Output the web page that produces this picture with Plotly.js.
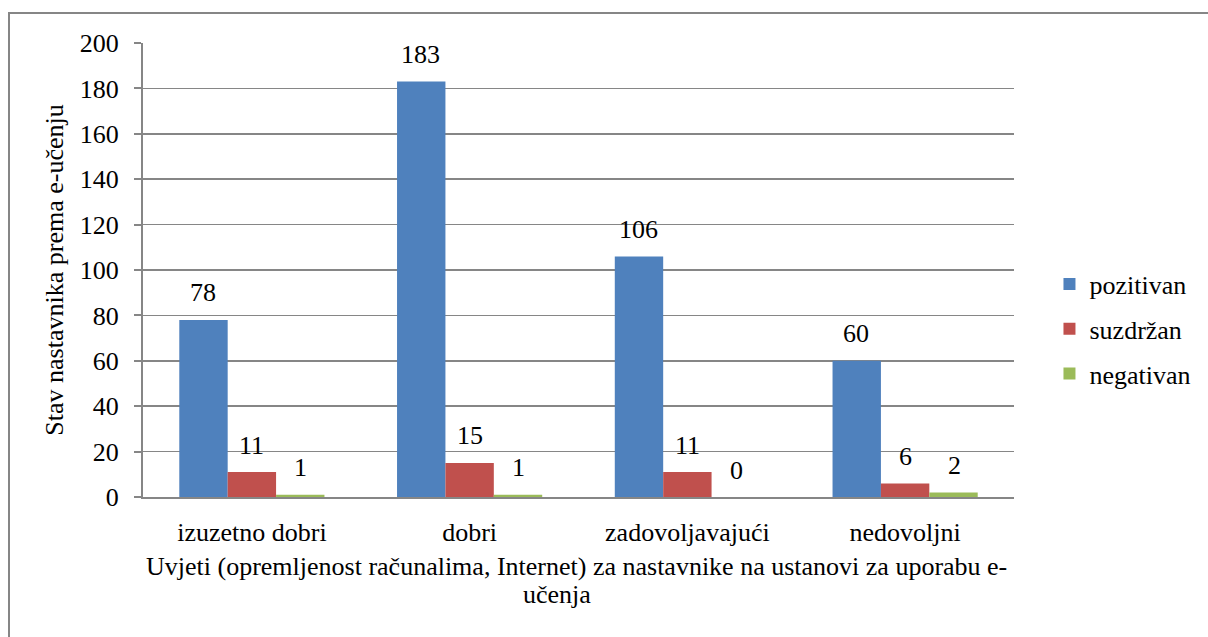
<!DOCTYPE html>
<html>
<head>
<meta charset="utf-8">
<script src="https://cdn.plot.ly/plotly-3.0.1.min.js"></script>
<style>
html,body{margin:0;padding:0;background:#fff;overflow:hidden;}
#wrap{position:relative;width:1208px;height:637px;overflow:hidden;}
#chart{width:1208px;height:637px;}
#frame{position:absolute;left:8px;top:12px;width:1400px;height:900px;border-left:2px solid #868686;border-top:2px solid #868686;pointer-events:none;}
</style>
</head>
<body>
<div id="wrap"><div id="chart"></div><div id="frame"></div></div>
<script>
const categories = ["izuzetno dobri", "dobri", "zadovoljavajući", "nedovoljni"];
const seriesNames = ["pozitivan", "suzdržan", "negativan"];
const pozitivan = [78, 183, 106, 60];
const suzdrzan = [11, 15, 11, 6];
const negativan = [1, 1, 0, 2];
const yTickVals = [0, 20, 40, 60, 80, 100, 120, 140, 160, 180, 200];
const xTitleLines = ["Uvjeti (opremljenost računalima, Internet) za nastavnike na ustanovi za uporabu e-", "učenja"];
const yTitle = "Stav nastavnika prema e-učenju";

const colors = ["#4F81BD", "#C0504D", "#9BBB59"];
const allSeries = [pozitivan, suzdrzan, negativan];
const FONT = "Liberation Serif";
const FS = 26;

const W = 1208, H = 637;
const mL = 143, mR = 181, mT = 43, mB = 140;
const plotW = W - mL - mR;
const plotH = H - mT - mB;
const bargap = 1/3;
const barW = plotW / categories.length * (1 - bargap) / 3;
const px2x = p => (p - mL) / plotW;
const py2y = p => (H - mB - p) / plotH;

const traces = allSeries.map((vals, j) => ({
  type: "bar",
  name: seriesNames[j],
  x: categories,
  y: vals,
  marker: {color: colors[j], line: {width: 0}},
  legendgroup: "g" + j,
  hoverinfo: "none"
}));

const annotations = [];
allSeries.forEach((vals, j) => {
  vals.forEach((v, i) => {
    annotations.push({
      xref: "x", yref: "y",
      x: categories[i], y: v,
      text: String(v),
      showarrow: false,
      xshift: (j - 1) * barW,
      yshift: 27,
      yanchor: "middle",
      xanchor: "center",
      font: {family: FONT, size: FS, color: "#000"}
    });
  });
});
// x axis title (two lines, as wrapped in the original)
annotations.push({
  xref: "paper", yref: "paper", x: px2x(583), y: py2y(566),
  text: xTitleLines[0], showarrow: false, xanchor: "center", yanchor: "middle",
  font: {family: FONT, size: FS, color: "#000"}
});
annotations.push({
  xref: "paper", yref: "paper", x: px2x(563), y: py2y(594),
  text: xTitleLines[1], showarrow: false, xanchor: "center", yanchor: "middle",
  font: {family: FONT, size: FS, color: "#000"}
});

const layout = {
  width: W, height: H,
  margin: {l: mL, r: mR, t: mT, b: mB, pad: 0},
  paper_bgcolor: "#fff",
  plot_bgcolor: "#fff",
  barmode: "group",
  bargap: bargap,
  bargroupgap: 0,
  font: {family: FONT, size: FS, color: "#000"},
  showlegend: true,
  legend: {
    x: px2x(1063), xanchor: "left",
    y: py2y(329), yanchor: "middle",
    font: {family: FONT, size: FS, color: "#000"},
    tracegroupgap: 8,
    traceorder: "grouped",
    itemwidth: 30,
    bgcolor: "rgba(0,0,0,0)"
  },
  xaxis: {
    type: "category",
    tickfont: {family: FONT, size: FS, color: "#000"},
    ticks: "",
    showline: true,
    linecolor: "#868686",
    linewidth: 2,
    showgrid: false,
    zeroline: false,
    ticklabelstandoff: 11,
    automargin: false
  },
  yaxis: {
    range: [0, 200],
    tickvals: yTickVals,
    tickfont: {family: FONT, size: FS, color: "#000"},
    ticks: "outside",
    ticklen: 7,
    tickcolor: "#868686",
    tickwidth: 2,
    showline: true,
    linecolor: "#868686",
    linewidth: 2,
    showgrid: true,
    gridcolor: "#868686",
    gridwidth: 1.5,
    zeroline: false,
    ticklabelstandoff: 10,
    automargin: false,
    title: {text: yTitle, font: {family: FONT, size: FS, color: "#000"}, standoff: 9}
  },
  annotations: annotations
};

Plotly.newPlot("chart", traces, layout, {displayModeBar: false, staticPlot: true});
</script>
</body>
</html>
